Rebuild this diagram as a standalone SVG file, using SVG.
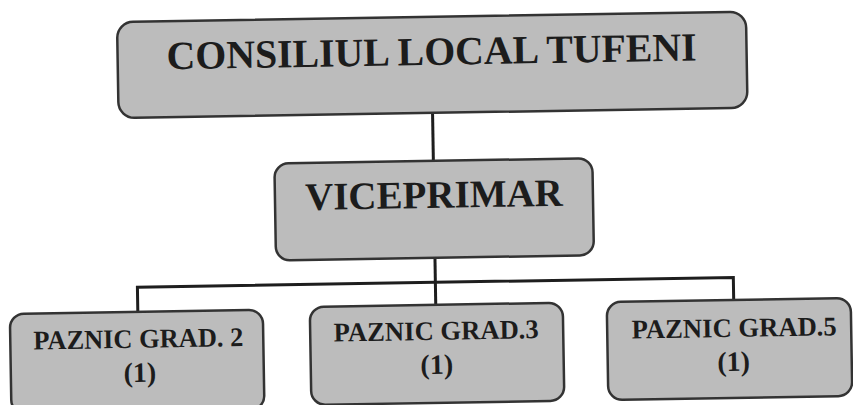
<svg xmlns="http://www.w3.org/2000/svg" width="853" height="405" viewBox="0 0 853 405">
<style>
.box{fill:#bcbcbc;stroke:#333;stroke-width:2.5}
.t{font-family:"Liberation Serif","Times New Roman",serif;font-weight:bold;fill:#1c1c1c;text-anchor:middle}
.s{font-size:27px}
.n{font-size:28px}
.ln{stroke:#1e1e1e;stroke-width:3;fill:none}
</style>
<rect width="853" height="405" fill="#ffffff"/>
<g transform="rotate(-0.95 426 200)">
<g id="connectors">
<line class="ln" x1="434" y1="113" x2="434" y2="161"/>
<line class="ln" x1="434" y1="258" x2="434" y2="305"/>
<polyline class="ln" points="136,307 136,282.5 732,282.5 732,305"/>
</g>
<g id="consiliul">
<rect class="box" x="120" y="17" width="629" height="96" rx="16"/>
<text class="t" x="434" y="65" font-size="40" textLength="530" lengthAdjust="spacingAndGlyphs">CONSILIUL LOCAL TUFENI</text>
</g>
<g id="viceprimar">
<rect class="box" x="275" y="161" width="318" height="97" rx="14"/>
<text class="t" x="434" y="208" font-size="39">VICEPRIMAR</text>
</g>
<g id="paznic2">
<rect class="box" x="8" y="307" width="253" height="100" rx="14"/>
<text class="t s" x="136" y="343" textLength="210" lengthAdjust="spacingAndGlyphs">PAZNIC GRAD. 2</text>
<text class="t n" x="137" y="377">(1)</text>
</g>
<g id="paznic3">
<rect class="box" x="308" y="305" width="253" height="98" rx="14"/>
<text class="t s" x="434" y="340" textLength="205" lengthAdjust="spacingAndGlyphs">PAZNIC GRAD.3</text>
<text class="t n" x="434" y="374">(1)</text>
</g>
<g id="paznic5">
<rect class="box" x="605" y="305" width="244" height="98" rx="14"/>
<text class="t s" x="732" y="342" textLength="205" lengthAdjust="spacingAndGlyphs">PAZNIC GRAD.5</text>
<text class="t n" x="731" y="376">(1)</text>
</g>
</g>
</svg>
